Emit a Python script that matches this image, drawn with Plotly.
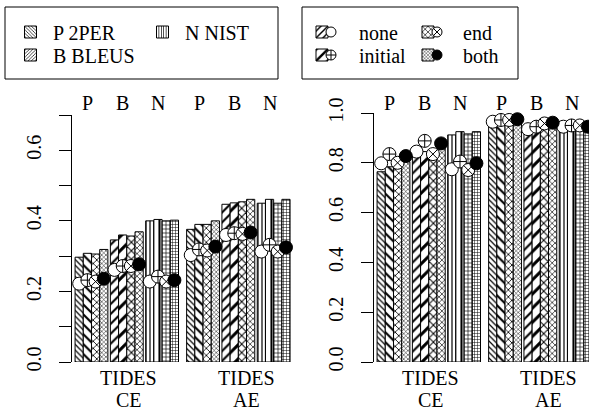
import plotly.graph_objects as go

W, H = 589, 414
FONT = "Liberation Serif, Times New Roman, Times, DejaVu Serif, serif"

# ---------------- data ----------------
groups = ["CE", "AE"]
group_title = "TIDES"
metrics = ["P", "B", "N"]
metric_names = ["2PER", "BLEUS", "NIST"]
variants = ["none", "initial", "end", "both"]

# values ordered CE-P, CE-B, CE-N, AE-P, AE-B, AE-N
left_bar_none = [0.297, 0.346, 0.400, 0.376, 0.447, 0.450]
left_bar_initial = [0.308, 0.360, 0.404, 0.390, 0.451, 0.461]
left_bar_end = [0.306, 0.357, 0.400, 0.390, 0.454, 0.450]
left_bar_both = [0.319, 0.369, 0.402, 0.400, 0.461, 0.461]

left_pt_none = [0.222, 0.261, 0.228, 0.303, 0.360, 0.313]
left_pt_initial = [0.232, 0.272, 0.242, 0.319, 0.365, 0.332]
left_pt_end = [0.228, 0.272, 0.228, 0.316, 0.363, 0.313]
left_pt_both = [0.236, 0.277, 0.232, 0.327, 0.367, 0.325]

right_bar_none = [0.764, 0.835, 0.912, 0.945, 0.934, 0.952]
right_bar_initial = [0.784, 0.845, 0.925, 0.961, 0.945, 0.955]
right_bar_end = [0.784, 0.851, 0.916, 0.961, 0.952, 0.955]
right_bar_both = [0.805, 0.865, 0.925, 0.975, 0.961, 0.955]

right_pt_none = [0.798, 0.845, 0.774, 0.965, 0.935, 0.945]
right_pt_initial = [0.835, 0.888, 0.805, 0.972, 0.945, 0.950]
right_pt_end = [0.800, 0.835, 0.771, 0.972, 0.958, 0.950]
right_pt_both = [0.827, 0.878, 0.798, 0.975, 0.961, 0.945]

left_tickvals = [0.0, 0.1, 0.2, 0.3, 0.4, 0.5, 0.6, 0.7]
left_ticktext = ["0.0", "", "0.2", "", "0.4", "", "0.6", ""]
right_tickvals = [0.0, 0.2, 0.4, 0.6, 0.8, 1.0]
right_ticktext = ["0.0", "0.2", "0.4", "0.6", "0.8", "1.0"]

# ---------------- styles ----------------
pattern_shape = {"P": ["\\", "\\", "x", "x"],
                 "B": ["/", "/", "x", "x"],
                 "N": ["|", "|", "+", "+"]}
pattern_size = {"P": [4, 7, 5, 3],
                "B": [7, 10, 6, 4],
                "N": [4, 7, 4, 3]}
legend_var_shape = ["/", "/", "x", "x"]
legend_var_size = [6, 10, 5, 3]
pt_symbol = ["circle", "circle-cross", "circle-x", "circle"]
pt_fill = ["white", "white", "white", "black"]

left_bars = [left_bar_none, left_bar_initial, left_bar_end, left_bar_both]
left_pts = [left_pt_none, left_pt_initial, left_pt_end, left_pt_both]
right_bars = [right_bar_none, right_bar_initial, right_bar_end, right_bar_both]
right_pts = [right_pt_none, right_pt_initial, right_pt_end, right_pt_both]

BARGAP = 0.07
GROUP_PITCH = 3.16
cats = [(g, m) for g in groups for m in metrics]
pos = [gi * GROUP_PITCH + mi for gi in range(len(groups)) for mi in range(len(metrics))]
cat_metric = [m for g, m in cats]
bar_w = (1 - BARGAP) / len(variants)

fig = go.Figure()

panels = [("x", "y", left_bars, left_pts), ("x2", "y2", right_bars, right_pts)]
for xa, ya, bars, pts in panels:
    for k, v in enumerate(variants):
        fig.add_trace(go.Bar(
            x=pos, y=bars[k], xaxis=xa, yaxis=ya, name=v, showlegend=False,
            offsetgroup=v,
            marker=dict(color="white", line=dict(color="black", width=1),
                        pattern=dict(shape=[pattern_shape[m][k] for m in cat_metric],
                                     size=[pattern_size[m][k] for m in cat_metric],
                                     solidity=0.3, fgcolor="black", bgcolor="white",
                                     fillmode="replace")),
        ))
    for k, v in enumerate(variants):
        offset = (k - (len(variants) - 1) / 2) * bar_w
        fig.add_trace(go.Scatter(
            x=[p + offset for p in pos], y=pts[k], xaxis=xa, yaxis=ya, name=v,
            showlegend=False, mode="markers", cliponaxis=False,
            marker=dict(symbol=pt_symbol[k], size=13, color=pt_fill[k],
                        line=dict(color="black", width=1)),
        ))

# ---------------- legends (legend-only traces on a hidden axis) ----------------
def px_x(x):
    return x / W

def px_y(y):
    return (H - y) / H

leg_font = dict(family=FONT, size=20, color="black")
legend_layout = {}

def add_legend(name, cx, cy, w):
    legend_layout[name] = dict(x=px_x(cx - 5 - w / 2), y=px_y(cy), xanchor="left",
                               yanchor="middle", font=leg_font, bgcolor="rgba(0,0,0,0)",
                               borderwidth=0, itemwidth=w)

metric_leg_pos = [(30.5, 32), (30.5, 55), (162.5, 32)]
for i, (m, nm) in enumerate(zip(metrics, metric_names)):
    lname = "legend" if i == 0 else f"legend{i + 1}"
    fig.add_trace(go.Bar(
        x=[None], y=[None], xaxis="x3", yaxis="y3", name=f"{m} {nm}", legend=lname,
        marker=dict(color="white", line=dict(color="black", width=1),
                    pattern=dict(shape=pattern_shape[m][0], size=3, solidity=0.3,
                                 fgcolor="black", bgcolor="white", fillmode="replace")),
    ))
    cx, cy = metric_leg_pos[i]
    add_legend(lname, cx, cy, 35)

var_leg_pos = [(322, 32), (322, 55), (428, 32), (428, 55)]
var_leg_w = [64, 64, 60, 60]
n_leg = len(metrics)
for k, v in enumerate(variants):
    cx, cy = var_leg_pos[k]
    n_leg += 1
    lname = f"legend{n_leg}"
    fig.add_trace(go.Bar(
        x=[None], y=[None], xaxis="x3", yaxis="y3", name=v, legend=lname,
        marker=dict(color="white", line=dict(color="black", width=1),
                    pattern=dict(shape=legend_var_shape[k], size=legend_var_size[k],
                                 solidity=0.3, fgcolor="black", bgcolor="white",
                                 fillmode="replace")),
    ))
    add_legend(lname, cx, cy, var_leg_w[k])
    n_leg += 1
    lname2 = f"legend{n_leg}"
    fig.add_trace(go.Scatter(
        x=[None], y=[None], xaxis="x3", yaxis="y3", name=" ", legend=lname2,
        mode="markers",
        marker=dict(symbol=pt_symbol[k], size=10, color=pt_fill[k],
                    line=dict(color="black", width=1)),
    ))
    add_legend(lname2, cx + 9, cy, 30)

# ---------------- axes ----------------
y_bottom = px_y(362)
yaxis_common = dict(showline=True, linecolor="black", linewidth=1, ticks="outside",
                    ticklen=12, tickcolor="black", tickwidth=1, showgrid=False,
                    zeroline=False, tickangle=-90, ticklabelstandoff=10, automargin=False,
                    tickfont=dict(family=FONT, size=20, color="black"))
xaxis_common = dict(showline=False, showticklabels=False, showgrid=False, zeroline=False,
                    ticks="", automargin=False)

fig.update_layout(
    template="none",
    width=W, height=H, margin=dict(l=0, r=0, t=0, b=0, pad=0, autoexpand=False),
    paper_bgcolor="white", plot_bgcolor="white",
    font=dict(family=FONT, size=20, color="black"),
    barmode="group", bargap=BARGAP, bargroupgap=0,
    xaxis=dict(domain=[px_x(72), px_x(296)], range=[-0.552, 5.793], anchor="y", **xaxis_common),
    yaxis=dict(domain=[y_bottom, px_y(115)], range=[0, 0.7], anchor="x",
               tickvals=left_tickvals, ticktext=left_ticktext, **yaxis_common),
    xaxis2=dict(domain=[px_x(374), 1.0], range=[-0.552, 5.538], anchor="y2", **xaxis_common),
    yaxis2=dict(domain=[y_bottom, px_y(113)], range=[0, 1.0], anchor="x2",
                tickvals=right_tickvals, ticktext=right_ticktext, **yaxis_common),
    xaxis3=dict(domain=[0, 0.01], visible=False, anchor="y3"),
    yaxis3=dict(domain=[0, 0.01], visible=False, anchor="x3"),
    **legend_layout,
)

# legend frames
for x0, x1 in [(5, 278), (302, 518)]:
    fig.add_shape(type="rect", xref="paper", yref="paper",
                  x0=px_x(x0), x1=px_x(x1), y0=px_y(79), y1=px_y(7),
                  line=dict(color="black", width=1), fillcolor="rgba(0,0,0,0)")

# metric labels above and group labels below
for xa in ["x", "x2"]:
    for p, m in zip(pos, cat_metric):
        fig.add_annotation(x=p, xref=xa, y=px_y(103), yref="paper", text=m,
                           showarrow=False, xshift=-4, yanchor="middle",
                           font=dict(family=FONT, size=20, color="black"))
    label_shift = [2, 8]
    for gi, g in enumerate(groups):
        center = pos[gi * len(metrics) + 1]
        fig.add_annotation(x=center, xref=xa, y=px_y(378), yref="paper", text=group_title,
                           showarrow=False, xshift=label_shift[gi], yanchor="middle",
                           font=dict(family=FONT, size=20, color="black"))
        fig.add_annotation(x=center, xref=xa, y=px_y(400), yref="paper", text=g,
                           showarrow=False, xshift=label_shift[gi], yanchor="middle",
                           font=dict(family=FONT, size=20, color="black"))

fig.write_html("out.html", config={"displayModeBar": False},
               post_script="document.body.style.margin='0px';")
